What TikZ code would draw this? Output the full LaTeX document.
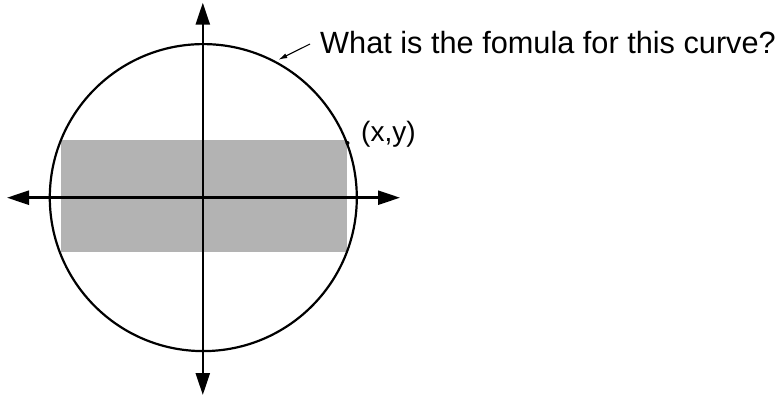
\documentclass[tikz,border=0pt]{standalone}
\usepackage{fontspec}
\setmainfont{Liberation Sans}
\usetikzlibrary{arrows.meta}
\definecolor{boxgray}{RGB}{179,179,179}
\begin{document}
\begin{tikzpicture}[x=1pt,y=-1pt,
  axis/.style={line width=2.5pt,{Triangle[length=22pt,width=14pt]}-{Triangle[length=22pt,width=14pt]}},
  curve/.style={draw,circle,line width=2.2pt,inner sep=0pt,minimum size=307pt},
  note/.style={line width=1.1pt,-{Latex[length=9pt,width=5pt]}},
  lbl/.style={inner sep=0pt,font=\fontsize{30.7}{36}\selectfont},
  ptlbl/.style={inner sep=0pt,font=\fontsize{28}{34}\selectfont}]
\useasboundingbox (0,0) rectangle (781,396);
\fill[boxgray] (61,140) rectangle (347,251.7);
\coordinate (O) at (203.3,197.6);
\node[curve] (C) at (O) {};
\coordinate (top) at (202.8,2.7);
\coordinate (bot) at (202.8,395);
\coordinate (left) at (7,197.7);
\coordinate (right) at (400,197.7);
\draw[axis] (top) -- (bot);
\draw[axis] (left) -- (right);
\node[lbl,anchor=base west] (q) at (320,54) {What is the fomula for this curve?};
\coordinate (qs) at (310,44);
\coordinate (qt) at (278.3,59.8);
\draw[note] (qs) -- (qt);
\coordinate (P) at (347.5,143);
\fill (P) circle (2pt);
\node[ptlbl,anchor=base west] (pl) at (361,141) {(x,y)};
\end{tikzpicture}
\end{document}
